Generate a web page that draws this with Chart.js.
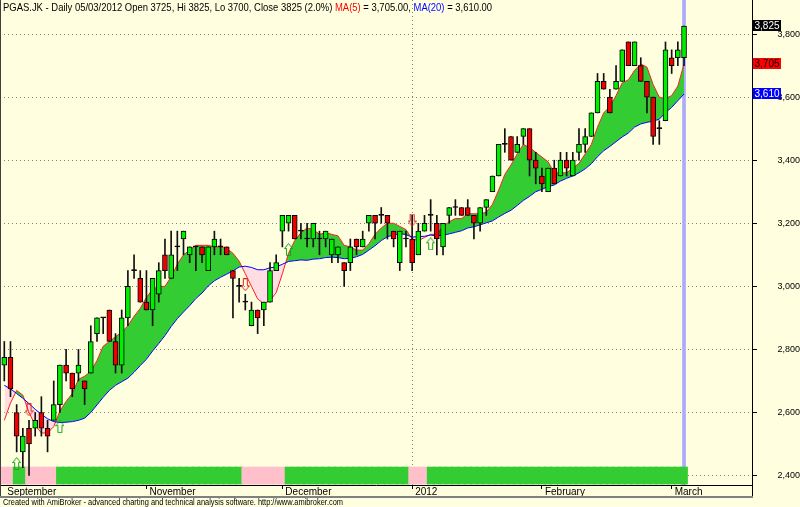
<!DOCTYPE html>
<html>
<head>
<meta charset="utf-8">
<script src="https://cdn.jsdelivr.net/npm/chart.js@4/dist/chart.umd.min.js"></script>
<style>
  html, body { margin: 0; padding: 0; background: #FFFFE0; }
</style>
</head>
<body>
<canvas id="myChart" width="800" height="507"></canvas>
<script>
// daily candles, one per trading day (late Sep 2011 .. 5 Mar 2012)
const opens = [2750,2775,2600,2475,2550,2550,2600,2550,2575,2625,
  2750,2725,2725,2700,2725,2850,2900,2925,2825,2750,
  2900,3050,3025,2950,2925,2975,3100,3025,3125,3150,
  3100,3125,3125,3050,3125,3125,3125,3050,3000,2950,
  2875,2925,2925,2950,3050,3175,3200,3225,3175,3150,
  3150,3150,3150,3100,3100,3075,3075,3150,3125,3200,
  3225,3225,3225,3175,3075,3150,3150,3100,3175,3225,
  3200,3125,3225,3250,3250,3250,3225,3200,3250,3300,
  3350,3450,3475,3425,3475,3500,3400,3350,3300,3375,
  3350,3400,3350,3425,3450,3475,3550,3650,3600,3625,
  3650,3775,3700,3700,3650,3600,3500,3525,3725,3725,
  3725];
const highs = [2825,2825,2625,2550,2575,2600,2650,2575,2700,2750,
  2800,2725,2800,2700,2875,2900,2900,2925,2850,2925,
  3050,3100,3050,3050,3025,3075,3150,3175,3175,3175,
  3125,3125,3125,3125,3175,3150,3125,3050,3025,2975,
  2950,2925,2950,3075,3100,3225,3225,3225,3200,3200,
  3200,3175,3175,3150,3125,3075,3150,3150,3175,3225,
  3225,3250,3225,3175,3175,3175,3225,3200,3225,3275,
  3225,3200,3250,3275,3250,3275,3225,3250,3275,3350,
  3450,3500,3475,3475,3500,3500,3425,3375,3375,3400,
  3425,3425,3425,3500,3500,3550,3675,3675,3625,3700,
  3750,3775,3775,3725,3650,3600,3525,3775,3750,3775,
  3825];
const lows = [2700,2650,2475,2425,2400,2525,2525,2475,2575,2600,
  2700,2650,2700,2625,2725,2825,2850,2825,2725,2725,
  2875,3025,2950,2925,2875,2950,3025,3025,3050,3100,
  3075,3050,3075,3050,3100,3100,3100,2900,2950,2925,
  2875,2850,2875,2950,3050,3125,3175,3150,3150,3125,
  3125,3100,3125,3075,3075,3000,3050,3100,3125,3175,
  3150,3200,3150,3125,3050,3125,3050,3100,3175,3175,
  3100,3100,3200,3225,3225,3225,3150,3175,3225,3300,
  3350,3425,3400,3425,3450,3350,3325,3300,3300,3325,
  3350,3350,3350,3400,3425,3475,3550,3625,3550,3625,
  3650,3700,3700,3650,3550,3450,3450,3525,3675,3700,
  3700];
const closes = [2775,2675,2525,2525,2500,2575,2550,2525,2625,2750,
  2725,2675,2750,2675,2825,2900,2900,2825,2750,2900,
  3000,3050,2950,2925,3025,3050,3050,3100,3125,3175,
  3125,3125,3100,3125,3150,3125,3100,3025,3000,2950,
  2925,2900,2950,3050,3075,3225,3225,3150,3175,3150,
  3200,3150,3175,3150,3125,3050,3125,3125,3150,3225,
  3200,3225,3200,3150,3175,3150,3075,3175,3200,3225,
  3150,3200,3250,3250,3225,3225,3200,3250,3275,3350,
  3450,3450,3400,3450,3500,3400,3375,3325,3375,3325,
  3400,3375,3400,3450,3475,3550,3650,3625,3550,3650,
  3750,3700,3775,3650,3600,3475,3500,3750,3700,3750,
  3825];

// moving averages as plotted
const ma5 = [2575,2630,2670,2655,2600,2560,2535,2535,2555,2605,
  2635,2660,2705,2715,2730,2765,2810,2825,2840,2855,
  2875,2905,2930,2965,2990,3000,3000,3030,3070,3100,
  3115,3130,3130,3130,3125,3125,3120,3105,3080,3040,
  3000,2960,2945,2955,2980,3040,3105,3145,3170,3185,
  3180,3165,3170,3165,3160,3130,3125,3115,3115,3135,
  3165,3185,3200,3200,3190,3180,3150,3145,3155,3165,
  3165,3190,3205,3215,3215,3230,3230,3230,3235,3260,
  3305,3355,3385,3420,3450,3440,3425,3410,3395,3360,
  3360,3360,3375,3390,3420,3450,3505,3550,3570,3605,
  3645,3655,3685,3705,3695,3640,3600,3595,3605,3635,
  3705];
const ma20 = [2686,2675,2660,2645,2628,2610,2594,2580,2571,2568,
  2569,2571,2575,2582,2600,2624,2648,2670,2686,2697.5,
  2708.75,2727.5,2748.75,2768.75,2795,2818.75,2843.75,2872.5,2897.5,2918.75,
  2938.75,2961.25,2978.75,3001.25,3017.5,3028.75,3038.75,3048.75,3061.25,3063.75,
  3060,3052.5,3052.5,3058.75,3061.25,3070,3078.75,3081.25,3083.75,3082.5,
  3086.25,3087.5,3091.25,3092.5,3091.25,3087.5,3088.75,3093.75,3101.25,3115,
  3128.75,3145,3157.5,3162.5,3167.5,3163.75,3156.25,3157.5,3158.75,3162.5,
  3160,3162.5,3166.25,3171.25,3176.25,3185,3188.75,3195,3201.25,3207.5,
  3220,3231.25,3241.25,3256.25,3272.5,3285,3300,3307.5,3316.25,3321.25,
  3333.75,3342.5,3350,3360,3372.5,3388.75,3411.25,3430,3443.75,3458.75,
  3473.75,3486.25,3505,3515,3520,3523.75,3530,3551.25,3567.5,3588.75,
  3610];

// trend ribbon: run lengths of up / down bars
const ribbonRuns = [[2,'down'],[2,'up'],[5,'down'],[30,'up'],[7,'down'],[20,'up'],[3,'down'],[42,'up']];
// signal arrows [bar, price]
const buyArrows = [[2,2438],[9,2555],[46,3117],[69,3135]];
const sellArrows = [[4,2608],[39,3005],[66,3210]];

// x axis labels
const monthTicks = [0, 23, 45, 66, 87, 108];
const monthLabels = ['September', 'November', 'December', '2012', 'February', 'March'];
const yearBreak = 66;
const yTicks = [2400, 2600, 2800, 3000, 3200, 3400, 3600, 3800];

const Y_MIN = 2370, Y_MAX = 3908;
const FONT = '"Liberation Sans", Arial, sans-serif';

const N = closes.length;
const bars = closes.map((c, i) => i);

let ribbonColors = [];
ribbonRuns.forEach(([n, s]) => {
  for (let k = 0; k < n; k++) ribbonColors.push(s === 'up' ? '#33CC33' : '#FFC0CB');
});

function makeArrow(up, color) {
  const cv = document.createElement('canvas');
  cv.width = 9; cv.height = 13;
  const g = cv.getContext('2d');
  const pts = [[4.5,0.5],[8.5,5.5],[6.5,5.5],[6.5,12.5],[2.5,12.5],[2.5,5.5],[0.5,5.5]];
  g.strokeStyle = color;
  g.lineWidth = 1;
  g.beginPath();
  pts.forEach(([x, y], k) => {
    const yy = up ? y : 13 - y;
    if (k) g.lineTo(x, yy); else g.moveTo(x, yy);
  });
  g.closePath();
  g.stroke();
  return cv;
}

const frame = {
  id: 'frame',
  beforeDraw(chart) {
    const c = chart.ctx;
    c.save();
    c.fillStyle = '#FFFFE0';
    c.fillRect(0, 0, chart.width, chart.height);
    c.restore();
  },
  afterDraw(chart) {
    const c = chart.ctx;
    const a = chart.chartArea;
    const ys = chart.scales.y;
    c.save();

    c.strokeStyle = '#000';
    c.lineWidth = 1;
    c.beginPath();
    c.moveTo(a.right + 0.5, a.bottom);
    c.lineTo(a.right + 0.5, 497);
    c.stroke();
    c.strokeStyle = '#404040';
    c.beginPath();
    c.moveTo(0.5, 0);
    c.lineTo(0.5, 497);
    c.stroke();
    c.strokeStyle = '#808080';
    c.lineWidth = 2;
    c.beginPath();
    c.moveTo(0, 497);
    c.lineTo(a.right + 1, 497);
    c.stroke();

    // last value boxes on the price axis
    const boxes = [[closes[N - 1], '#000000', '#FFFFFF'],
                   [ma5[N - 1], '#FF0000', '#000000'],
                   [ma20[N - 1], '#0000FF', '#FFFFFF']];
    c.font = '10px ' + FONT;
    c.textAlign = 'center';
    c.textBaseline = 'middle';
    boxes.forEach(([v, bg, fg]) => {
      const y = Math.round(ys.getPixelForValue(v));
      c.fillStyle = bg;
      c.fillRect(a.right + 1, y - 6, 28, 11);
      c.fillStyle = fg;
      c.fillText(v.toLocaleString('en-US'), a.right + 15, y);
    });

    // title
    const parts = [
      ['PGAS.JK - Daily 05/03/2012 Open 3725, Hi 3825, Lo 3700, Close 3825 (2.0%) ', '#000000'],
      ['MA(5)', '#FF0000'],
      [' = 3,705.00, ', '#000000'],
      ['MA(20)', '#0000FF'],
      [' = 3,610.00', '#000000']
    ];
    c.font = '11px ' + FONT;
    c.textAlign = 'left';
    const sx = 332 / c.measureText(parts[0][0]).width;
    c.save();
    c.scale(sx, 1);
    let x = 3 / sx;
    parts.forEach(([t, col]) => {
      c.fillStyle = col;
      c.fillText(t, x, 8);
      x += c.measureText(t).width;
    });
    c.restore();

    // footer
    const foot = 'Created with AmiBroker - advanced charting and technical analysis software. http://www.amibroker.com';
    c.font = '9px ' + FONT;
    const fx = 340 / c.measureText(foot).width;
    c.save();
    c.scale(fx, 1);
    c.fillStyle = '#000';
    c.fillText(foot, 3 / fx, 503);
    c.restore();

    c.restore();
  }
};

const ctx = document.getElementById('myChart');
new Chart(ctx, {
  type: 'bar',
  data: {
    datasets: [
      {
        type: 'bar',
        data: [{ x: N - 1, y: [Y_MIN, Y_MAX] }],
        backgroundColor: '#AAAAFF',
        barThickness: 3,
        grouped: false,
        order: 10
      },
      {
        type: 'bar',
        data: bars.map(i => ({ x: i, y: [2373, 2427] })),
        backgroundColor: ribbonColors,
        borderWidth: 0,
        barThickness: 7,
        grouped: false,
        order: 9
      },
      {
        type: 'line',
        data: bars.map(i => ({ x: i, y: ma5[i] })),
        borderColor: '#FF2020',
        borderWidth: 1,
        pointRadius: 0,
        tension: 0,
        fill: { target: '+1', above: '#33CC33', below: '#FFDDE3' },
        order: 8
      },
      {
        type: 'line',
        data: bars.map(i => ({ x: i, y: ma20[i] })),
        borderColor: '#0000FF',
        borderWidth: 1,
        pointRadius: 0,
        tension: 0,
        fill: false,
        order: 7
      },
      {
        type: 'bar',
        data: bars.map(i => ({ x: i, y: [lows[i], highs[i]] })),
        backgroundColor: '#101010',
        borderWidth: 0,
        barThickness: 1,
        grouped: false,
        order: 6
      },
      {
        type: 'bar',
        data: bars.map(i => ({ x: i, y: [Math.min(opens[i], closes[i]), Math.max(opens[i], closes[i])] })),
        backgroundColor: bars.map(i => closes[i] > opens[i] ? '#00EE00' : (closes[i] < opens[i] ? '#EE0000' : '#000000')),
        borderColor: '#000000',
        borderWidth: 1,
        borderSkipped: false,
        barThickness: 5,
        minBarLength: 1,
        grouped: false,
        order: 5
      },
      {
        type: 'line',
        data: buyArrows.map(([b, p]) => ({ x: b, y: p })),
        showLine: false,
        pointStyle: makeArrow(true, '#1F9F1F'),
        order: 4
      },
      {
        type: 'line',
        data: sellArrows.map(([b, p]) => ({ x: b, y: p })),
        showLine: false,
        pointStyle: makeArrow(false, '#E02020'),
        order: 3
      }
    ]
  },
  options: {
    responsive: false,
    animation: false,
    devicePixelRatio: 1,
    layout: { padding: { left: 0, top: 0, right: 0, bottom: 10 }, autoPadding: false },
    plugins: { legend: { display: false }, tooltip: { enabled: false } },
    scales: {
      x: {
        type: 'linear',
        min: -0.696,
        max: 121,
        offset: false,
        afterBuildTicks: s => { s.ticks = monthTicks.map(v => ({ value: v })); },
        afterFit: s => { s.height = 12; s.paddingLeft = 0; s.paddingRight = 0; },
        ticks: {
          autoSkip: false,
          maxRotation: 0,
          align: 'start',
          labelOffset: 3,
          padding: -3,
          color: '#000',
          font: { family: FONT, size: 10 },
          callback: v => monthLabels[monthTicks.indexOf(v)]
        },
        grid: {
          offset: false,
          drawOnChartArea: true,
          color: c => (c.tick && c.tick.value === yearBreak) ? '#808080' : 'rgba(0,0,0,0)',
          tickColor: c => c.index === 0 ? 'rgba(0,0,0,0)' : '#000',
          tickLength: 4,
          tickBorderDash: []
        },
        border: { display: true, color: '#000', dash: [1, 3] }
      },
      y: {
        position: 'right',
        min: Y_MIN,
        max: Y_MAX,
        afterBuildTicks: s => { s.ticks = yTicks.map(v => ({ value: v })); },
        afterFit: s => { s.width = 48; s.paddingTop = 0; s.paddingBottom = 0; },
        ticks: {
          crossAlign: 'far',
          padding: 18,
          color: '#000',
          font: { family: FONT, size: 9 },
          callback: v => v.toLocaleString('en-US')
        },
        grid: {
          color: '#808080',
          tickColor: '#000',
          tickLength: 5,
          tickBorderDash: []
        },
        border: { display: true, color: '#000', dash: [1, 3] }
      }
    }
  },
  plugins: [frame]
});
</script>
</body>
</html>
